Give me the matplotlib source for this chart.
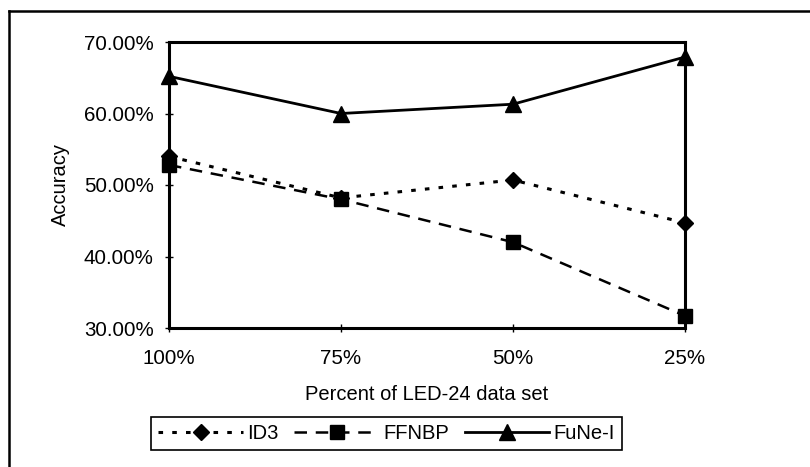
import numpy as np
import matplotlib.pyplot as plt
from matplotlib.ticker import FuncFormatter

plt.rcParams['font.family'] = ['Liberation Sans', 'DejaVu Sans']

# datos
categorias = ['100%', '75%', '50%', '25%']
id3 = [54.0, 48.2, 50.7, 44.7]
ffnbp = [52.8, 48.0, 42.0, 31.7]
fune = [65.2, 60.0, 61.3, 67.9]

fig = plt.figure(figsize=(8.1, 4.67), dpi=100)
ax = fig.add_axes([169/810, 1 - 328/467, (685 - 169)/810, (328 - 42)/467])

x = np.arange(len(categorias))
ax.plot(x, id3, linestyle=(0, (1.5, 3)), color='black', lw=2.2,
        marker='D', markersize=8, label='ID3', clip_on=False)
ax.plot(x, ffnbp, linestyle=(0, (5, 3.5)), color='black', lw=1.8,
        marker='s', markersize=10, label='FFNBP', clip_on=False)
ax.plot(x, fune, linestyle='-', color='black', lw=2.0,
        marker='^', markersize=11, label='FuNe-I', clip_on=False)

ax.set_xlim(0, 3)
ax.set_ylim(30, 70)
ax.set_yticks([30, 40, 50, 60, 70])
ax.yaxis.set_major_formatter(FuncFormatter(lambda v, p: '%.2f%%' % v))
ax.set_xticks(x)
ax.set_xticklabels(categorias)

for s in ax.spines.values():
    s.set_linewidth(2.2)
ax.tick_params(axis='y', direction='inout', length=6, width=1, pad=8, labelsize=14.8)
ax.tick_params(axis='x', direction='inout', length=6, width=1, pad=12, labelsize=14.8)

ax.set_ylabel('Accuracy', fontsize=14.5, labelpad=10)
ax.set_xlabel('Percent of LED-24 data set', fontsize=14.5, labelpad=12)

leg = fig.legend(loc='center', bbox_to_anchor=((153 + 620)/2/810, 1 - 433.5/467),
                 ncol=3, fontsize=14.5, handlelength=4.2, columnspacing=0.8,
                 handletextpad=0.2, borderpad=0.35, fancybox=False,
                 edgecolor='black', framealpha=1)
leg.get_frame().set_linewidth(1.2)

# borde exterior (recortado en el escaneo)
fig.add_artist(plt.Line2D([9/810, 9/810], [0, 1 - 11/467], transform=fig.transFigure,
                          color='black', lw=1.8))
fig.add_artist(plt.Line2D([9/810, 1], [1 - 11/467, 1 - 11/467], transform=fig.transFigure,
                          color='black', lw=1.8))

fig.savefig('out.png', dpi=100)
